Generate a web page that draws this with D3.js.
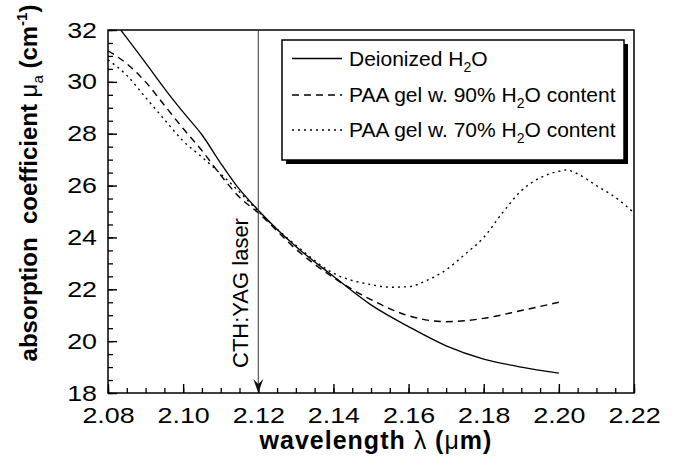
<!DOCTYPE html>
<html>
<head>
<meta charset="utf-8">
<script src="https://cdn.jsdelivr.net/npm/d3@7"></script>
<style>
  body { margin: 0; background: #fff; }
  svg { display: block; font-family: 'Liberation Sans', Arial, Helvetica, sans-serif; }
</style>
</head>
<body>
<div id="chart"></div>
<script>
// wavelength (um) vs absorption coefficient (1/cm)
const waterWl = [2.0834, 2.0854, 2.09, 2.097, 2.10, 2.105, 2.11, 2.114, 2.12, 2.13, 2.14, 2.15, 2.16, 2.17, 2.18, 2.19, 2.20];
const waterMu = [32.0, 31.62, 30.73, 29.37, 28.83, 27.96, 26.86, 26.04, 25.05, 23.65, 22.5, 21.4, 20.56, 19.82, 19.31, 19.0, 18.77];

const gel90Wl = [2.08, 2.085, 2.09, 2.095, 2.10, 2.105, 2.11, 2.115, 2.12, 2.13, 2.14, 2.15, 2.16, 2.17, 2.18, 2.19, 2.20];
const gel90Mu = [31.2, 30.7, 30.0, 29.1, 28.2, 27.35, 26.4, 25.55, 24.95, 23.55, 22.45, 21.6, 20.98, 20.75, 20.88, 21.18, 21.5];

const gel70Wl = [2.08, 2.085, 2.09, 2.095, 2.10, 2.105, 2.11, 2.115, 2.12, 2.13, 2.14, 2.15, 2.155, 2.16, 2.165, 2.17, 2.175, 2.18, 2.185, 2.19, 2.195, 2.20, 2.202, 2.205, 2.21, 2.215, 2.22];
const gel70Mu = [30.85, 30.25, 29.4, 28.55, 27.72, 27.1, 26.45, 25.75, 25.0, 23.7, 22.62, 22.18, 22.08, 22.1, 22.35, 22.75, 23.35, 24.0, 24.95, 25.8, 26.3, 26.55, 26.6, 26.45, 26.0, 25.55, 24.95];

const xTicks = [2.08, 2.10, 2.12, 2.14, 2.16, 2.18, 2.20, 2.22];
const yTicks = [18, 20, 22, 24, 26, 28, 30, 32];
const laserWl = 2.12;

const series = [
  { name: 'Deionized H', tail: 'O', extra: '', wl: waterWl, mu: waterMu, dash: null },
  { name: 'PAA gel w. 90% H', tail: 'O', extra: ' content', wl: gel90Wl, mu: gel90Mu, dash: '7,5' },
  { name: 'PAA gel w. 70% H', tail: 'O', extra: ' content', wl: gel70Wl, mu: gel70Mu, dash: '2,4' }
];

const outerWidth = 675;
const outerHeight = 466;
const margin = { top: 30, right: 41, bottom: 73, left: 108 };
const width = outerWidth - margin.left - margin.right;
const height = outerHeight - margin.top - margin.bottom;
const TICK_STRETCH = 1.22;

const svgRoot = d3
  .select('#chart')
  .append('svg')
  .attr('width', outerWidth)
  .attr('height', outerHeight);

const svg = svgRoot
  .append('g')
  .attr('transform', 'translate(' + margin.left + ',' + margin.top + ')');

const x = d3.scaleLinear().domain([2.08, 2.22]).range([0, width]);
const y = d3.scaleLinear().domain([18, 32]).range([height, 0]);

// minor ticks (every 0.005 um and 0.5 1/cm), drawn inside the frame
const xMinor = d3.range(0, 29).map(i => +(2.08 + i * 0.005).toFixed(3));
const yMinor = d3.range(0, 29).map(i => 18 + i * 0.5);

svg
  .append('g')
  .attr('transform', 'translate(0,' + height + ')')
  .call(d3.axisBottom(x).tickValues(xMinor).tickSize(-5).tickFormat(''))
  .call(g => g.select('.domain').remove())
  .selectAll('line')
  .attr('stroke-width', 1.3);

svg
  .append('g')
  .call(d3.axisLeft(y).tickValues(yMinor).tickSize(-5).tickFormat(''))
  .call(g => g.select('.domain').remove())
  .selectAll('line')
  .attr('stroke-width', 1.3);

// major ticks + labels
const xAxis = svg
  .append('g')
  .attr('transform', 'translate(0,' + height + ')')
  .call(
    d3
      .axisBottom(x)
      .tickValues(xTicks)
      .tickSize(-9)
      .tickPadding(14)
      .tickFormat(d3.format('.2f'))
  );

const yAxis = svg
  .append('g')
  .call(
    d3
      .axisLeft(y)
      .tickValues(yTicks)
      .tickSize(-9)
      .tickPadding(11 / TICK_STRETCH)
      .tickFormat(d3.format('d'))
  );

[xAxis, yAxis].forEach(ax => {
  ax.select('.domain').remove();
  ax.selectAll('line').attr('stroke-width', 1.4);
  ax
    .selectAll('text')
    .attr('font-size', 22)
    .attr('font-family', "'Liberation Sans', Arial, sans-serif")
    .attr('fill', '#000')
    .attr('transform', 'scale(' + TICK_STRETCH + ',1)');
});

// frame
svg
  .append('rect')
  .attr('x', 0)
  .attr('y', 0)
  .attr('width', width)
  .attr('height', height)
  .attr('fill', 'none')
  .attr('stroke', '#000')
  .attr('stroke-width', 1.5);

// curves
svg
  .append('defs')
  .append('clipPath')
  .attr('id', 'plotClip')
  .append('rect')
  .attr('width', width)
  .attr('height', height);

const line = d3
  .line()
  .x(d => x(d[0]))
  .y(d => y(d[1]))
  .curve(d3.curveMonotoneX);

svg
  .append('g')
  .attr('clip-path', 'url(#plotClip)')
  .selectAll('path')
  .data(series)
  .enter()
  .append('path')
  .attr('d', s => line(s.wl.map((w, i) => [w, s.mu[i]])))
  .attr('fill', 'none')
  .attr('stroke', '#000')
  .attr('stroke-width', s => (s.dash ? 1.4 : 1.3))
  .attr('stroke-dasharray', s => s.dash);

// laser marker: vertical arrow down to the axis
const lx = x(laserWl);
svg
  .append('line')
  .attr('x1', lx)
  .attr('x2', lx)
  .attr('y1', 0)
  .attr('y2', height - 4)
  .attr('stroke', '#333')
  .attr('stroke-width', 1);

svg
  .append('path')
  .attr('transform', `translate(${lx},${height})`)
  .attr('d', 'M0,0 L-5,-14 L0,-9 L5,-14 Z')
  .attr('fill', '#111');

svg
  .append('text')
  .attr('transform', `translate(${lx - 10},${height - 25}) rotate(-90)`)
  .attr('font-size', 22)
  .attr('fill', '#000')
  .text('CTH:YAG laser');

// axis titles (greek letters in a lighter weight, like the original)
const xTitle = svgRoot
  .append('text')
  .attr('x', 376)
  .attr('y', 449)
  .attr('text-anchor', 'middle')
  .attr('font-size', 25)
  .attr('font-weight', 'bold')
  .attr('letter-spacing', 1)
  .attr('xml:space', 'preserve');
xTitle.append('tspan').text('wavelength ');
xTitle.append('tspan').attr('font-weight', 'normal').text('\u03bb');
xTitle.append('tspan').text(' (');
xTitle.append('tspan').attr('font-weight', 'normal').text('\u03bc');
xTitle.append('tspan').text('m)');

const yTitle = svgRoot
  .append('text')
  .attr('transform', 'translate(37,183) rotate(-90)')
  .attr('text-anchor', 'middle')
  .attr('font-size', 24)
  .attr('font-weight', 'bold')
  .attr('xml:space', 'preserve');
yTitle.append('tspan').text('absorption  coefficient ');
yTitle.append('tspan').attr('font-weight', 'normal').text('\u03bc');
yTitle.append('tspan').attr('font-size', 15).attr('font-weight', 'normal').attr('dy', 6).text('a');
yTitle.append('tspan').attr('dy', -6).text(' (cm');
yTitle.append('tspan').attr('font-size', 15).attr('dy', -10).text('-1');
yTitle.append('tspan').attr('dy', 10).text(')');

// legend with drop shadow
const legend = svgRoot.append('g').attr('transform', 'translate(282,40)');
legend
  .append('rect')
  .attr('x', 4)
  .attr('y', 4)
  .attr('width', 342)
  .attr('height', 120)
  .attr('fill', '#000');
legend
  .append('rect')
  .attr('width', 342)
  .attr('height', 120)
  .attr('fill', '#fff')
  .attr('stroke', '#000')
  .attr('stroke-width', 1.5);

const rows = legend
  .selectAll('g.row')
  .data(series)
  .enter()
  .append('g')
  .attr('class', 'row')
  .attr('transform', (d, i) => `translate(0,${[18.5, 55, 90][i]})`);

rows
  .append('line')
  .attr('x1', 10)
  .attr('x2', 60)
  .attr('stroke', '#000')
  .attr('stroke-width', 1.3)
  .attr('stroke-dasharray', d => d.dash);

const labels = rows
  .append('text')
  .attr('x', 67)
  .attr('y', 7)
  .attr('font-size', 21)
  .attr('fill', '#000');
labels.append('tspan').text(d => d.name);
labels.append('tspan').attr('font-size', 14).attr('dy', 6).text('2');
labels.append('tspan').attr('dy', -6).text(d => d.tail + d.extra);
</script>
</body>
</html>
